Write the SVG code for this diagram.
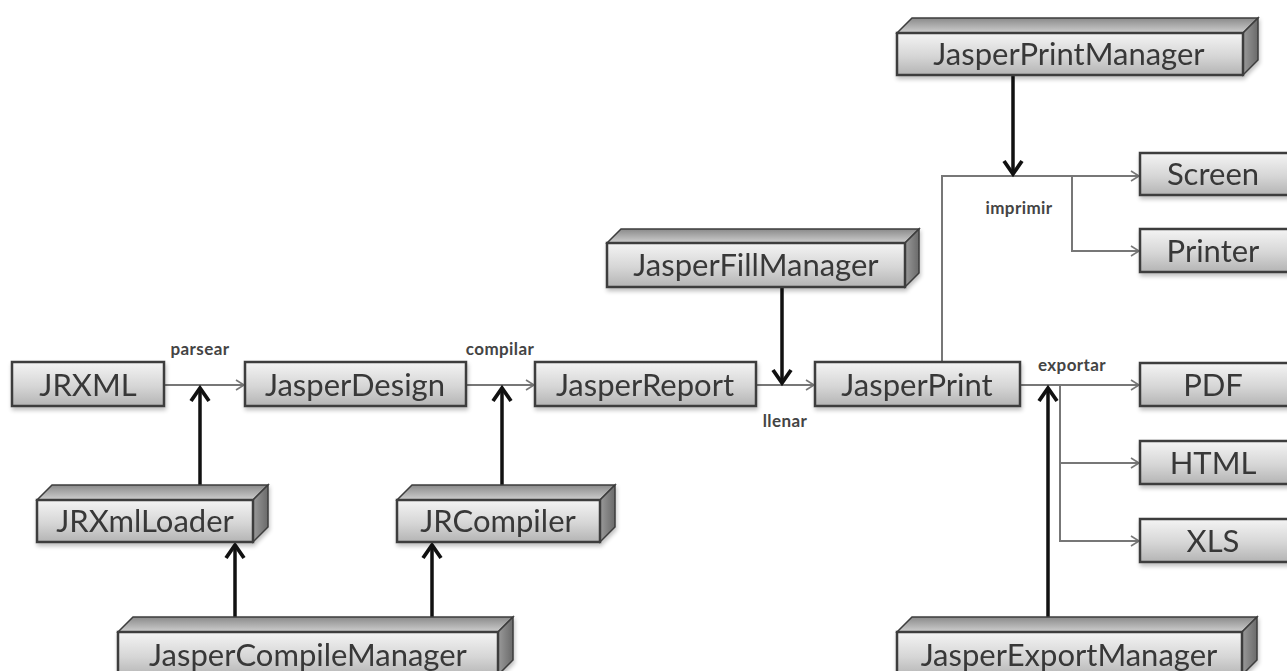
<svg xmlns="http://www.w3.org/2000/svg" width="1287" height="671" viewBox="0 0 1287 671">
  <defs>
    <linearGradient id="face" x1="0" y1="0" x2="0" y2="1">
      <stop offset="0" stop-color="#f4f4f4"/>
      <stop offset="0.55" stop-color="#d6d6d6"/>
      <stop offset="1" stop-color="#b4b4b4"/>
    </linearGradient>
    <linearGradient id="top" x1="0" y1="0" x2="0" y2="1">
      <stop offset="0" stop-color="#8a8a8a"/>
      <stop offset="1" stop-color="#cfcfcf"/>
    </linearGradient>
    <linearGradient id="side" x1="0" y1="0" x2="1" y2="0">
      <stop offset="0" stop-color="#9a9a9a"/>
      <stop offset="1" stop-color="#6a6a6a"/>
    </linearGradient>
    <filter id="shadow" x="-5%" y="-20%" width="110%" height="150%">
      <feGaussianBlur in="SourceAlpha" stdDeviation="2"/>
      <feOffset dx="1" dy="3"/>
      <feComponentTransfer><feFuncA type="linear" slope="0.25"/></feComponentTransfer>
      <feMerge><feMergeNode/><feMergeNode in="SourceGraphic"/></feMerge>
    </filter>
    <marker id="thin" markerWidth="12" markerHeight="12" refX="10" refY="6" orient="auto" markerUnits="userSpaceOnUse">
      <path d="M2,1 L10,6 L2,11" fill="none" stroke="#777" stroke-width="1.6"/>
    </marker>
    <marker id="bold" markerWidth="22" markerHeight="22" refX="17" refY="11" orient="auto" markerUnits="userSpaceOnUse">
      <path d="M4,2 L17,11 L4,20" fill="none" stroke="#111" stroke-width="3.8"/>
    </marker>
  </defs>
  <style>
    .box { fill: url(#face); stroke: #3c3c3c; stroke-width: 2.5; }
    .top { fill: url(#top); stroke: #3c3c3c; stroke-width: 1.5; }
    .side { fill: url(#side); stroke: #3c3c3c; stroke-width: 1.5; }
    .lbl { font-family: "Lato", "Open Sans", sans-serif; font-size: 31px; fill: #383838; text-anchor: middle; }
    .edge { font-family: "Lato", "Open Sans", sans-serif; font-size: 17px; font-weight: bold; fill: #444; text-anchor: middle; letter-spacing: 0.4px; }
    .flow { fill: none; stroke: #777; stroke-width: 2; }
    .ctl { fill: none; stroke: #111; stroke-width: 3.5; }
  </style>
  <rect width="1287" height="671" fill="#ffffff"/>

  <!-- connectors -->
  <g id="connectors">
    <line class="flow" x1="164" y1="385" x2="244" y2="385" marker-end="url(#thin)"/>
    <line class="flow" x1="466" y1="385" x2="534" y2="385" marker-end="url(#thin)"/>
    <line class="flow" x1="756" y1="385" x2="814" y2="385" marker-end="url(#thin)"/>
    <polyline class="flow" points="942,362 942,176 1139,176" marker-end="url(#thin)"/>
    <polyline class="flow" points="1072,176 1072,251 1139,251" marker-end="url(#thin)"/>
    <line class="flow" x1="1020" y1="385" x2="1139" y2="385" marker-end="url(#thin)"/>
    <polyline class="flow" points="1060,385 1060,541 1139,541" marker-end="url(#thin)"/>
    <line class="flow" x1="1060" y1="463" x2="1139" y2="463" marker-end="url(#thin)"/>

    <line class="ctl" x1="200" y1="485" x2="200" y2="388" marker-end="url(#bold)"/>
    <line class="ctl" x1="502" y1="485" x2="502" y2="388" marker-end="url(#bold)"/>
    <line class="ctl" x1="235" y1="618" x2="235" y2="545" marker-end="url(#bold)"/>
    <line class="ctl" x1="432" y1="618" x2="432" y2="545" marker-end="url(#bold)"/>
    <line class="ctl" x1="782" y1="287" x2="782" y2="383" marker-end="url(#bold)"/>
    <line class="ctl" x1="1013" y1="75" x2="1013" y2="174" marker-end="url(#bold)"/>
    <line class="ctl" x1="1048" y1="618" x2="1048" y2="388" marker-end="url(#bold)"/>

    <text class="edge" x="200" y="355">parsear</text>
    <text class="edge" x="500" y="355">compilar</text>
    <text class="edge" x="785" y="427">llenar</text>
    <text class="edge" x="1019" y="214">imprimir</text>
    <text class="edge" x="1072" y="371">exportar</text>
  </g>

  <!-- data artefacts -->
  <g id="jrxml" filter="url(#shadow)">
    <rect class="box" x="12" y="362" width="152" height="44"/>
    <text class="lbl" x="88" y="396">JRXML</text>
  </g>
  <g id="jasperDesign" filter="url(#shadow)">
    <rect class="box" x="245" y="362" width="221" height="44"/>
    <text class="lbl" x="355" y="396">JasperDesign</text>
  </g>
  <g id="jasperReport" filter="url(#shadow)">
    <rect class="box" x="535" y="362" width="221" height="44"/>
    <text class="lbl" x="645" y="396">JasperReport</text>
  </g>
  <g id="jasperPrint" filter="url(#shadow)">
    <rect class="box" x="815" y="362" width="205" height="44"/>
    <text class="lbl" x="917" y="396">JasperPrint</text>
  </g>

  <!-- outputs -->
  <g id="screen" filter="url(#shadow)">
    <rect class="box" x="1140" y="153" width="160" height="42"/>
    <text class="lbl" x="1213" y="185">Screen</text>
  </g>
  <g id="printer" filter="url(#shadow)">
    <rect class="box" x="1140" y="229" width="160" height="43"/>
    <text class="lbl" x="1213" y="262">Printer</text>
  </g>
  <g id="pdf" filter="url(#shadow)">
    <rect class="box" x="1140" y="363" width="160" height="43"/>
    <text class="lbl" x="1213" y="396">PDF</text>
  </g>
  <g id="html" filter="url(#shadow)">
    <rect class="box" x="1140" y="441" width="160" height="43"/>
    <text class="lbl" x="1213" y="474">HTML</text>
  </g>
  <g id="xls" filter="url(#shadow)">
    <rect class="box" x="1140" y="519" width="160" height="43"/>
    <text class="lbl" x="1213" y="552">XLS</text>
  </g>

  <!-- managers (3D blocks) -->
  <g id="jasperPrintManager" filter="url(#shadow)">
    <polygon class="top" points="897,33 912,18 1258,18 1243,33"/>
    <polygon class="side" points="1243,33 1258,18 1258,60 1243,75"/>
    <rect class="box" x="897" y="33" width="346" height="42"/>
    <text class="lbl" x="1069" y="65">JasperPrintManager</text>
  </g>
  <g id="jasperFillManager" filter="url(#shadow)">
    <polygon class="top" points="607,243 621,229 919,229 905,243"/>
    <polygon class="side" points="905,243 919,229 919,273 905,287"/>
    <rect class="box" x="607" y="243" width="298" height="44"/>
    <text class="lbl" x="756" y="276">JasperFillManager</text>
  </g>
  <g id="jrXmlLoader" filter="url(#shadow)">
    <polygon class="top" points="37,500 52,485 268,485 253,500"/>
    <polygon class="side" points="253,500 268,485 268,527 253,542"/>
    <rect class="box" x="37" y="500" width="216" height="42"/>
    <text class="lbl" x="145" y="532">JRXmlLoader</text>
  </g>
  <g id="jrCompiler" filter="url(#shadow)">
    <polygon class="top" points="397,500 412,485 615,485 600,500"/>
    <polygon class="side" points="600,500 615,485 615,527 600,542"/>
    <rect class="box" x="397" y="500" width="203" height="42"/>
    <text class="lbl" x="498" y="532">JRCompiler</text>
  </g>
  <g id="jasperCompileManager" filter="url(#shadow)">
    <polygon class="top" points="118,632 133,617 513,617 498,632"/>
    <polygon class="side" points="498,632 513,617 513,660 498,675"/>
    <rect class="box" x="118" y="632" width="380" height="45"/>
    <text class="lbl" x="308" y="666">JasperCompileManager</text>
  </g>
  <g id="jasperExportManager" filter="url(#shadow)">
    <polygon class="top" points="897,632 912,617 1257,617 1242,632"/>
    <polygon class="side" points="1242,632 1257,617 1257,660 1242,675"/>
    <rect class="box" x="897" y="632" width="345" height="45"/>
    <text class="lbl" x="1069" y="666">JasperExportManager</text>
  </g>
</svg>
